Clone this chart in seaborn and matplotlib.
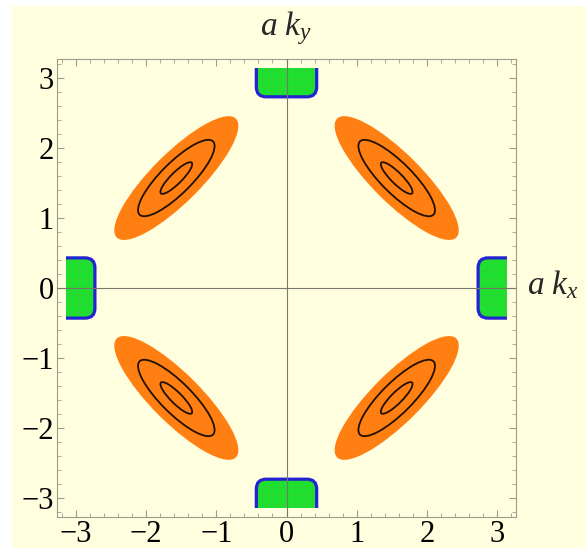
import numpy as np
import matplotlib
matplotlib.use("Agg")
import matplotlib.pyplot as plt
import seaborn as sns
from matplotlib.patches import Ellipse, FancyBboxPatch, Rectangle
from matplotlib.ticker import MultipleLocator

# orange pockets around the nodal points
pocket_cx = [1.57, -1.57, -1.57, 1.57]
pocket_cy = [1.57, 1.57, -1.57, -1.57]
pocket_angle = [-45, 45, -45, 45]

# semi-axes: filled region, then the two black contour lines
level_major = [1.2, 0.74, 0.31]
level_minor = [0.35, 0.22, 0.08]

# green patches near the zone edges: (x0, y0, width, height)
green_x0 = [-0.43, -0.43, -3.7, 2.73]
green_y0 = [2.73, -3.7, -0.43, -0.43]
green_w = [0.86, 0.86, 0.97, 0.97]
green_h = [0.97, 0.97, 0.86, 0.86]

ticks = [-3, -2, -1, 0, 1, 2, 3]
lim = 3.27

bg = "#FFFFE0"
frame_col = "#9C9C8C"

sns.set_theme(style="ticks")
plt.rcParams["font.family"] = ["Liberation Serif", "DejaVu Serif"]
plt.rcParams["mathtext.fontset"] = "custom"
plt.rcParams["mathtext.it"] = "Liberation Serif:italic"
plt.rcParams["mathtext.rm"] = "Liberation Serif"
plt.rcParams["hatch.linewidth"] = 0.3

fig = plt.figure(figsize=(5.86, 5.48), dpi=100, facecolor="white")
fig.patches.append(Rectangle((12 / 586, 0), 1, 1 - 6 / 548, transform=fig.transFigure,
                             facecolor=bg, edgecolor="none", zorder=-10))
ax = fig.add_axes([57 / 586, 31 / 548, 459 / 586, 458 / 548])
ax.set_facecolor(bg)

clip = Rectangle((-np.pi, -np.pi), 2 * np.pi, 2 * np.pi, transform=ax.transData)

for cx, cy, ang in zip(pocket_cx, pocket_cy, pocket_angle):
    ax.add_patch(Ellipse((cx, cy), 2 * level_major[0], 2 * level_minor[0], angle=ang,
                         facecolor="#FF7F12", edgecolor="none", zorder=2))
    for a, b in zip(level_major[1:], level_minor[1:]):
        ax.add_patch(Ellipse((cx, cy), 2 * a, 2 * b, angle=ang, fill=False,
                             edgecolor="#201000", lw=1.3, zorder=3))

for x0, y0, w, h in zip(green_x0, green_y0, green_w, green_h):
    # fill with a faint mesh, then the blue rim on top
    fill = FancyBboxPatch((x0, y0), w, h, boxstyle="round,pad=0,rounding_size=0.14",
                          facecolor="#1EE02E", edgecolor="#3CC83C", lw=0, hatch="++",
                          zorder=2)
    rim = FancyBboxPatch((x0, y0), w, h, boxstyle="round,pad=0,rounding_size=0.14",
                         fill=False, edgecolor="#2323D2", lw=2.3, zorder=2.5)
    for p in (fill, rim):
        ax.add_patch(p)
        p.set_clip_path(clip)

ax.axhline(0, color="#77776A", lw=0.8, zorder=4)
ax.axvline(0, color="#77776A", lw=0.8, zorder=4)

ax.set_xlim(-lim, lim)
ax.set_ylim(-lim, lim)
ax.set_xticks(ticks)
ax.set_yticks(ticks)
ax.xaxis.set_minor_locator(MultipleLocator(0.2))
ax.yaxis.set_minor_locator(MultipleLocator(0.2))
ax.tick_params(which="both", direction="in", top=True, right=True, color=frame_col,
               labelsize=22, labelcolor="black")
ax.tick_params(which="major", length=5, width=0.8, pad=2.5)
ax.tick_params(which="minor", length=3, width=0.6)
for s in ax.spines.values():
    s.set_color(frame_col)
    s.set_linewidth(0.8)

fig.text(286 / 586, 1 - 35 / 548, r"$a\ k_y$", fontsize=24, ha="center", va="baseline")
fig.text(527 / 586, 1 - 294 / 548, r"$a\ k_x$", fontsize=24, ha="left", va="baseline")

fig.savefig("out.png", dpi=100, facecolor="white")
